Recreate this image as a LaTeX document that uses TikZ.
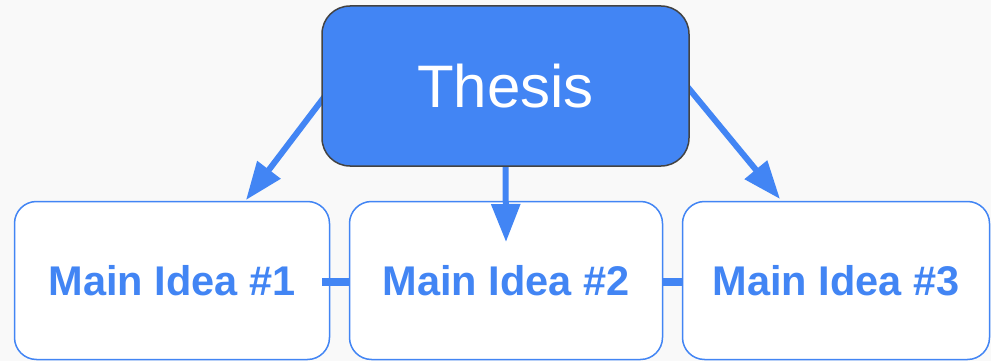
\documentclass[tikz,border=0pt]{standalone}
\usepackage{fontspec}
\setmainfont{Liberation Sans}
\usetikzlibrary{arrows.meta}
\definecolor{gblue}{HTML}{4285F4}
\definecolor{bgcol}{HTML}{F9F9F9}
\definecolor{edgecol}{HTML}{434343}
\pgfdeclarelayer{back}
\pgfsetlayers{back,main}
\begin{document}
\begin{tikzpicture}[x=1pt,y=-1pt,
 thesisbox/.style={draw=edgecol, line width=1.5pt, fill=gblue, rounded corners=28pt, text=white,
   font=\fontsize{60}{62}\selectfont, minimum width=367pt, minimum height=160pt, inner sep=0pt},
 ideabox/.style={draw=gblue, line width=1.5pt, fill=white, rounded corners=22pt, text=gblue,
   font=\bfseries\fontsize{41.5}{44}\selectfont, minimum height=158pt, inner sep=0pt},
 bigarrow/.style={draw=gblue, line width=6pt, -{Triangle[length=38pt,width=28pt]}},
 linkline/.style={draw=gblue, line width=8pt}]
\useasboundingbox (0,0) rectangle (991,361);
\node[thesisbox] (thesis) at (505.5,86) {Thesis};
\begin{pgfonlayer}{back}
\fill[bgcol] (0,0) rectangle (991,361);
\node[ideabox, minimum width=315pt] (b1) at (172,280.5) {Main Idea \#1};
\node[ideabox, minimum width=313pt] (b2) at (506,280.5) {Main Idea \#2};
\node[ideabox, minimum width=307pt] (b3) at (836,280.5) {Main Idea \#3};
\coordinate (t1) at (246,200);
\coordinate (t2) at (506,242);
\coordinate (t3) at (780,199);
\draw[bigarrow] ([shift={(3pt,-11pt)}]thesis.west) -- (t1);
\draw[bigarrow] ([yshift=3pt]thesis.south) -- (t2);
\draw[bigarrow] ([xshift=-3pt]thesis.east) -- (t3);
\draw[linkline] ([shift={(-8pt,-1.5pt)}]b1.east) -- ([yshift=-1.5pt]b2.west);
\draw[linkline] ([yshift=-1.5pt]b2.east) -- ([yshift=-1.5pt]b3.west);
\end{pgfonlayer}
\end{tikzpicture}
\end{document}
